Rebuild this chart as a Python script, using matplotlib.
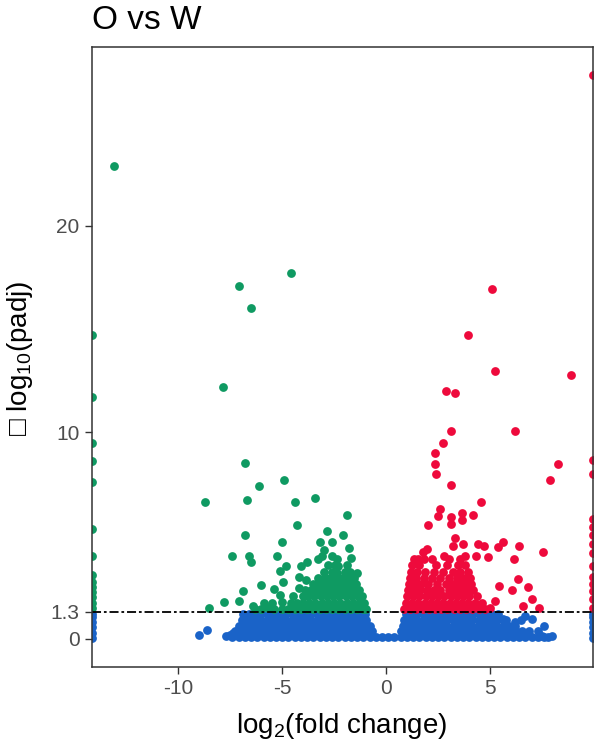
import numpy as np
import matplotlib
matplotlib.use('Agg')
import matplotlib.pyplot as plt

plt.rcParams['font.family'] = ['Liberation Sans', 'DejaVu Sans']
plt.rcParams['mathtext.fontset'] = 'custom'
plt.rcParams['mathtext.rm'] = 'Liberation Sans'
plt.rcParams['axes.unicode_minus'] = False

title = 'O vs W'
x_left, x_right = -14.15, 9.95   # сюда прижаты точки за пределами шкалы
padj_cut = 1.3

x_ticks = [-10, -5, 0, 5]
y_ticks = [0, 1.3, 10, 20]
y_ticklabels = ['0', '1.3', '10', '20']

# down-регулированные гены (зелёные), отдельные точки
down_x = [-13.1, -4.57, -7.07, -6.49, -7.84, -6.78, -4.9, -6.1, -8.7, -6.7, -4.4, -3.4, -1.9,
          -4.3, -6.8, -5.0, -7.4, -6.6, -6.5, -5.25, -4.8, -5.1, -4.2, -4.1, -3.8, -3.85,
          -4.2, -6.0, -4.95, -5.4, -6.9, -7.8, -7.1, -8.5, -6.4, -5.7, -5.1, -5.0,
          -2.85, -3.2, -2.6, -2.07, -1.8, -3.0, -3.1, -2.6, -1.7, -2.3, -2.35, -1.4, -1.9, -3.1]
down_y = [22.9, 17.7, 17.1, 16.0, 12.2, 8.5, 7.7, 7.4, 6.6, 6.7, 6.6, 6.8, 6.0,
          5.5, 5.0, 4.7, 4.0, 4.0, 3.7, 4.0, 3.5, 3.3, 3.0, 3.5, 3.7, 2.85,
          2.45, 2.6, 2.75, 2.4, 2.3, 1.8, 1.85, 1.5, 1.6, 1.5, 2.1, 1.8,
          5.2, 4.7, 4.7, 5.0, 4.4, 4.3, 4.0, 4.0, 3.9, 3.5, 3.2, 3.2, 2.75, 2.55]

# плотное ядро зелёных (строки по y)
down_core = {
    1.45: [-6.3, -6.0, -5.4, -5.0, -4.7, -4.4, -4.1, -3.8, -3.5, -3.2, -2.9, -2.6, -2.3, -2.0,
           -1.7, -1.4, -1.1, -0.95],
    1.75: [-5.9, -5.5, -4.6, -4.3, -4.0, -3.7, -3.4, -3.1, -2.8, -2.5, -2.2, -1.9, -1.6, -1.3, -1.05],
    2.05: [-4.5, -4.0, -3.75, -3.45, -3.15, -2.85, -2.55, -2.25, -1.95, -1.65, -1.35, -1.15],
    2.35: [-3.9, -3.6, -3.3, -3.0, -2.7, -2.4, -2.1, -1.8, -1.5, -1.3],
    2.65: [-3.5, -3.2, -2.9, -2.6, -2.3, -2.0, -1.7, -1.45],
    2.95: [-3.3, -2.95, -2.7, -2.4, -2.1, -1.8, -1.55],
    3.25: [-3.0, -2.6, -2.0, -1.75],
    3.55: [-2.8, -2.45, -1.9],
    3.85: [-3.3, -2.35],
}
down_edge_y = [14.7, 11.7, 9.5, 8.6, 7.6, 5.3, 4.0, 3.1, 2.75, 2.5, 2.25, 2.0, 1.75, 1.5]

# up-регулированные гены (красные)
up_x = [5.1, 3.95, 5.24, 8.9, 2.9, 3.3, 3.1, 6.2, 2.75, 2.36, 2.36, 8.27, 2.4, 7.9, 3.1, 4.57,
        2.6, 2.5, 3.65, 4.2, 3.1, 3.1, 3.65, 2.0, 7.55, 3.3, 3.2, 3.7, 4.4, 4.7, 5.6, 5.4, 6.4,
        1.97, 2.8, 3.8, 4.3, 4.9, 6.15, 1.55, 6.35, 6.8, 5.45, 6.05, 7.0, 6.6, 7.35, 5.25, 5.0]
up_y = [16.95, 14.7, 12.95, 12.75, 12.0, 11.9, 10.05, 10.05, 9.5, 9.0, 8.45, 8.45, 8.0, 7.7, 7.45, 6.6,
        6.3, 5.95, 6.1, 6.0, 5.9, 5.55, 5.75, 5.5, 4.2, 4.9, 4.5, 4.6, 4.6, 4.5, 4.7, 4.45, 4.5,
        4.35, 4.0, 4.0, 4.0, 3.95, 3.85, 3.85, 2.9, 2.5, 2.55, 2.35, 1.9, 1.6, 1.5, 1.85, 1.5]

up_core = {
    1.45: [0.85, 1.15, 1.45, 1.75, 2.05, 2.35, 2.65, 2.95, 3.25, 3.55, 3.85, 4.15, 4.45, 4.75],
    1.75: [0.95, 1.25, 1.55, 1.85, 2.15, 2.45, 2.75, 3.05, 3.35, 3.65, 3.95, 4.25, 4.6],
    2.05: [1.0, 1.3, 1.6, 1.9, 2.2, 2.5, 2.8, 3.1, 3.4, 3.7, 4.0, 4.35],
    2.35: [1.05, 1.35, 1.65, 1.95, 2.3, 2.6, 3.0, 3.3, 3.6, 3.9, 4.2],
    2.65: [1.1, 1.4, 1.7, 2.0, 2.45, 2.9, 3.2, 3.5, 3.85, 4.1],
    2.95: [1.15, 1.45, 1.8, 2.2, 2.6, 3.0, 3.4, 3.7, 4.05],
    3.25: [1.2, 1.5, 1.85, 2.3, 2.75, 3.2, 3.55, 3.95],
    3.55: [1.25, 1.6, 2.4, 2.95, 3.45, 3.8],
    3.85: [1.35, 1.8, 2.2, 3.0, 3.55],
    4.2: [1.75],
}
up_edge_y = [27.3, 8.65, 8.0, 5.8, 5.4, 5.0, 4.6, 4.15, 3.5, 3.0, 2.65, 2.3, 1.9, 1.5]

# незначимые гены (синие)
ns_core = {
    0.08: [-7.4, -7.1, -6.8, -6.5, -6.2, -5.9, -5.6, -5.3, -5.0, -4.7, -4.4, -4.1, -3.8, -3.5, -3.2,
           -2.9, -2.6, -2.3, -2.0, -1.7, -1.4, -1.1, -0.8, -0.5, -0.2, 0.1, 0.4, 0.7, 1.0, 1.3, 1.6,
           1.9, 2.2, 2.5, 2.8, 3.1, 3.4, 3.7, 4.0, 4.3, 4.6, 4.9, 5.2, 5.5, 5.8, 6.1, 6.4, 6.7, 7.0,
           7.3, 7.6],
    0.36: [-7.25, -6.95, -6.65, -6.35, -6.05, -5.75, -5.45, -5.15, -4.85, -4.55, -4.25, -3.95, -3.65,
           -3.35, -3.05, -2.75, -2.45, -2.15, -1.85, -1.55, -1.25, -0.95, -0.7, 0.72, 0.95, 1.15, 1.45,
           1.75, 2.05, 2.35, 2.65, 2.95, 3.25, 3.55, 3.85, 4.15, 4.45, 4.75, 5.05, 5.35, 5.65, 5.95,
           6.25, 6.55, 6.85],
    0.64: [-7.1, -6.8, -6.5, -6.2, -5.9, -5.6, -5.3, -5.0, -4.7, -4.4, -4.1, -3.8, -3.5, -3.2, -2.9,
           -2.6, -2.3, -2.0, -1.7, -1.4, -1.1, -0.8, 0.8, 1.1, 1.4, 1.7, 2.0, 2.3, 2.6, 2.9, 3.2, 3.5,
           3.8, 4.1, 4.4, 4.7, 5.0, 5.3, 5.6, 5.9, 6.2],
    0.92: [-6.95, -6.65, -6.35, -6.05, -5.75, -5.45, -5.15, -4.85, -4.55, -4.25, -3.95, -3.65, -3.35,
           -3.05, -2.75, -2.45, -2.15, -1.85, -1.55, -1.25, -0.95, 0.88, 1.15, 1.45, 1.75, 2.05, 2.35,
           2.65, 2.95, 3.25, 3.55, 3.85, 4.15, 4.45, 4.75, 5.05, 5.35, 5.75],
    1.2: [-6.9, -6.6, -6.3, -6.0, -5.7, -5.4, -5.1, -4.8, -4.5, -4.2, -3.9, -3.6, -3.3, -3.0, -2.7,
          -2.4, -2.1, -1.8, -1.5, -1.2, -1.0, 0.95, 1.2, 1.5, 1.8, 2.1, 2.4, 2.7, 3.0, 3.3, 3.6, 3.9,
          4.2, 4.5, 4.8, 5.1, 5.4],
}
ns_x = [-9.0, -8.6, -7.7, -7.5, -7.35, 7.6, 6.7, 7.0, 5.6, 6.2, 6.5, 7.3, 8.0, 7.5, 7.8]
ns_y = [0.2, 0.4, 0.15, 0.2, 0.3, 0.63, 1.1, 0.97, 0.97, 0.8, 0.9, 0.35, 0.15, 0.15, 0.1]
ns_edge_y = [0.05, 0.3, 0.55, 0.8, 1.05, 1.2]

col_down = '#0f9a62'
col_up = '#ee0a3c'
col_ns = '#1a63c8'


def rows(core):
    xs, ys = [], []
    for yy, xx in core.items():
        xs += xx
        ys += [yy] * len(xx)
    return xs, ys


fig = plt.figure(figsize=(5.97, 7.44), dpi=100)
ax = fig.add_axes([92 / 597, 1 - 667 / 744, 501 / 597, 620 / 744])

kw = dict(s=40, linewidths=0, clip_on=True)

# синие
bx, by = rows(ns_core)
bx = bx + ns_x + [x_left] * len(ns_edge_y) + [x_right] * len(ns_edge_y)
by = by + ns_y + ns_edge_y + ns_edge_y
ax.scatter(bx, by, color=col_ns, **kw)

# зелёные
gx, gy = rows(down_core)
gx = gx + down_x + [x_left] * len(down_edge_y)
gy = gy + down_y + down_edge_y
ax.scatter(gx, gy, color=col_down, **kw)

# красные
rx, ry = rows(up_core)
rx = rx + up_x + [x_right] * len(up_edge_y)
ry = ry + up_y + up_edge_y
ax.scatter(rx, ry, color=col_up, **kw)

ax.axhline(padj_cut, color='black', lw=1.3, dashes=(5, 1.6, 1.5, 1.6))

ax.set_xlim(x_left, x_right)
ax.set_ylim(-1.37, 28.66)
ax.set_xticks(x_ticks)
ax.set_xticklabels([str(t) for t in x_ticks])
ax.set_yticks(y_ticks)
ax.set_yticklabels(y_ticklabels)
ax.tick_params(length=5, width=1, color='#333333', labelsize=15, labelcolor='#4d4d4d', pad=4)
for s in ax.spines.values():
    s.set_color('#333333')
    s.set_linewidth(1.1)

fig.text(92 / 597, 1 - 29 / 744, title, fontsize=24, ha='left', va='baseline')
fig.text(342 / 597, 1 - 726 / 744, r'log$_\mathregular{2}$(fold change)', fontsize=20,
         ha='center', va='center')
fig.text(20 / 597, 1 - 358 / 744, r'□ log$_\mathregular{10}$(padj)', fontsize=20,
         rotation=90, ha='center', va='center')

fig.savefig('out.png', dpi=100)
